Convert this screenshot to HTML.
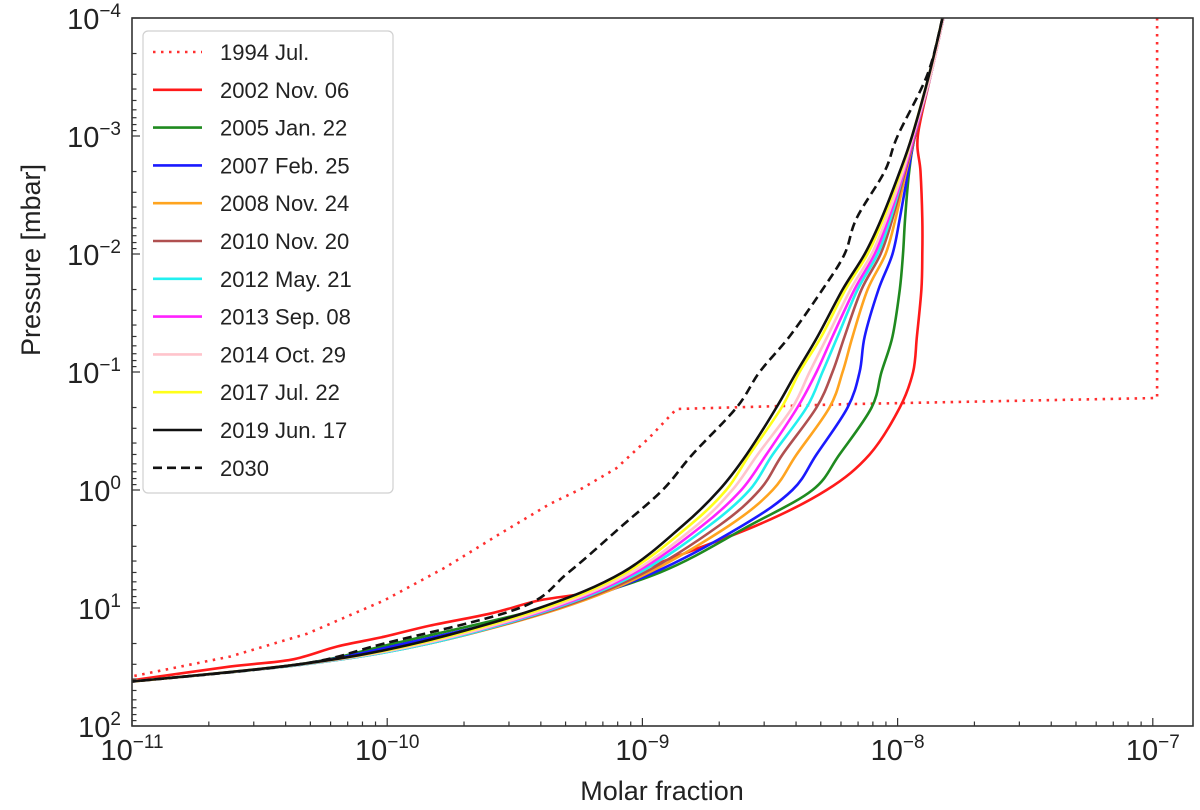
<!DOCTYPE html>
<html><head><meta charset="utf-8"><style>
html,body{margin:0;padding:0;background:#fff;}
svg{display:block;font-family:"Liberation Sans","DejaVu Sans",sans-serif;}
</style></head><body>
<svg id="chart" width="1200" height="810" viewBox="0 0 1200 810" xmlns="http://www.w3.org/2000/svg">
<defs><clipPath id="plotclip"><rect x="132" y="18" width="1061" height="708"/></clipPath></defs>
<rect x="0" y="0" width="1200" height="810" fill="#fff"/>
<g id="series" clip-path="url(#plotclip)"></g>
<g id="axes"></g>
<g id="legend"></g>
<text x="662" y="800" font-size="27" text-anchor="middle" fill="#222">Molar fraction</text>
<text transform="translate(40,260) rotate(-90)" font-size="27" text-anchor="middle" fill="#222">Pressure [mbar]</text>
</svg>
<script>
// Shared pressure levels (mbar)
const pressureLevels = [1e-4, 3e-4, 1e-3, 2e-3, 5e-3, 1e-2, 2e-2, 5e-2, 0.1, 0.2, 0.5, 1, 2, 5, 10, 20, 30, 42];
// Molar fraction values in units of 1e-9
const x2019 = [15.0,13.3,11.4,10.2,8.65,7.43,6.09,4.86,4.02,3.35,2.56,2.00,1.44,0.835,0.394,0.128,0.0452,0.010];
const x2017 = [15.0,13.3,11.4,10.3,8.81,7.63,6.25,5.03,4.13,3.51,2.63,2.13,1.53,0.865,0.413,0.133,0.0452,0.010];
const x2014 = [15.1,13.5,11.5,10.5,9.05,7.91,6.54,5.31,4.52,3.87,2.83,2.25,1.63,0.906,0.432,0.140,0.0460,0.010];
const x2013 = [15.1,13.5,11.6,10.6,9.22,8.13,6.78,5.56,4.81,4.05,3.06,2.44,1.72,0.939,0.444,0.140,0.0460,0.010];
const x2012 = [15.1,13.5,11.6,10.6,9.39,8.35,6.97,5.82,5.08,4.40,3.24,2.63,1.83,0.973,0.456,0.146,0.0473,0.010];
const x2010 = [15.1,13.5,11.7,10.7,9.55,8.58,7.22,6.20,5.56,4.81,3.54,2.88,2.00,1.02,0.469,0.146,0.0473,0.010];
const x2008 = [15.1,13.5,11.7,10.8,9.82,8.97,7.63,6.66,6.09,5.41,4.02,3.24,2.19,1.06,0.482,0.146,0.0473,0.010];
const x2007 = [15.1,13.5,11.7,11.0,10.2,9.55,8.42,7.43,7.10,6.37,4.81,3.87,2.47,1.11,0.452,0.117,0.0452,0.010];
const x2005 = [15.1,13.5,11.7,11.1,10.7,10.5,10.2,9.55,8.65,7.91,5.92,4.64,2.63,1.17,0.413,0.106,0.0452,0.010];
const x2030 = [15.0,13.1,10.0,8.89,6.90,6.20,5.08,3.77,2.88,2.34,1.57,1.20,0.835,0.513,0.330,0.0973,0.0452,0.010];
const p2002 = [1e-4,3e-4,1e-3,2e-3,5e-3,1e-2,2e-2,5e-2,0.1,0.2,0.5,1,2,5,7.1,8.63,11.1,14.1,17.5,21.2,27.4,31.4,41];
const x2002 = [15.0,13.5,12.0,12.3,12.5,12.5,12.4,11.9,11.5,10.2,7.77,5.27,2.80,0.930,0.678,0.394,0.256,0.147,0.0973,0.0637,0.0421,0.0242,0.010];
const p1994 = [1e-4,0.166,0.187,0.206,0.363,0.653,0.966,1.32,2.37,4.53,8.63,16.5,25.8,38];
const x1994 = [104,104,6.48,1.36,1.06,0.791,0.582,0.432,0.275,0.169,0.0973,0.0486,0.0242,0.010];
const xTickExps = [-11,-10,-9,-8,-7];
const yTickExps = [-4,-3,-2,-1,0,1,2];

const L=132,R=1193,T=18,B=726;
const xMinE=-11, xDec=255.2, yMinE=-4, yDec=118;
function sx(v){return L+(Math.log10(v)-xMinE)*xDec;}
function sy(p){return T+(Math.log10(p)-yMinE)*yDec;}
const NS="http://www.w3.org/2000/svg";
function mk(tag,attrs,parent){const e=document.createElementNS(NS,tag);for(const k in attrs)e.setAttribute(k,attrs[k]);parent.appendChild(e);return e;}

function pathFrom(xs,ps,scale,smooth){
  const pts=xs.map((v,i)=>[sx(v*scale),sy(ps[i])]);
  if(!smooth){return 'M'+pts.map(p=>p[0].toFixed(1)+','+p[1].toFixed(1)).join('L');}
  let d='M'+pts[0][0].toFixed(1)+','+pts[0][1].toFixed(1);
  for(let i=0;i<pts.length-1;i++){
    const p0=pts[Math.max(0,i-1)],p1=pts[i],p2=pts[i+1],p3=pts[Math.min(pts.length-1,i+2)];
    const c1=[p1[0]+(p2[0]-p0[0])/6,p1[1]+(p2[1]-p0[1])/6];
    const c2=[p2[0]-(p3[0]-p1[0])/6,p2[1]-(p3[1]-p1[1])/6];
    d+='C'+c1[0].toFixed(1)+','+c1[1].toFixed(1)+' '+c2[0].toFixed(1)+','+c2[1].toFixed(1)+' '+p2[0].toFixed(1)+','+p2[1].toFixed(1);
  }
  return d;
}
const sg=document.getElementById('series');
const seriesDefs=[
 {label:'1994 Jul.',color:'#ff3030',x:x1994,p:p1994,dash:'2.5 5.5',smooth:false,name:'line-1994-jul'},
 {label:'2002 Nov. 06',color:'#ff1a1a',x:x2002,p:p2002,name:'line-2002-nov-06'},
 {label:'2005 Jan. 22',color:'#1f8a1f',x:x2005,p:pressureLevels,name:'line-2005-jan-22'},
 {label:'2007 Feb. 25',color:'#1a1aff',x:x2007,p:pressureLevels,name:'line-2007-feb-25'},
 {label:'2008 Nov. 24',color:'#ffa41f',x:x2008,p:pressureLevels,name:'line-2008-nov-24'},
 {label:'2010 Nov. 20',color:'#b05050',x:x2010,p:pressureLevels,name:'line-2010-nov-20'},
 {label:'2012 May. 21',color:'#22f0f0',x:x2012,p:pressureLevels,name:'line-2012-may-21'},
 {label:'2013 Sep. 08',color:'#ff22ff',x:x2013,p:pressureLevels,name:'line-2013-sep-08'},
 {label:'2014 Oct. 29',color:'#ffc4cc',x:x2014,p:pressureLevels,name:'line-2014-oct-29'},
 {label:'2017 Jul. 22',color:'#ffff1a',x:x2017,p:pressureLevels,name:'line-2017-jul-22'},
 {label:'2019 Jun. 17',color:'#111111',x:x2019,p:pressureLevels,name:'line-2019-jun-17'},
 {label:'2030',color:'#111111',x:x2030,p:pressureLevels,dash:'9 5',name:'line-2030'}
];
const drawOrder=[0,1,2,3,4,5,6,7,8,9,10,11];
drawOrder.forEach(i=>{
  const s=seriesDefs[i];
  const el=mk('path',{d:pathFrom(s.x,s.p,1e-9,s.smooth!==false),fill:'none',stroke:s.color,'stroke-width':2.6,'stroke-linejoin':'round'},sg);
  if(s.dash){el.setAttribute('stroke-dasharray',s.dash);}
  
  
});

// axes
const ax=document.getElementById('axes');
const frame=mk('rect',{x:L,y:T,width:R-L,height:B-T,fill:'none',stroke:'#333','stroke-width':1.6},ax);


// x ticks
for(let e=-11;e<=-7;e++){
  for(let m=1;m<=9;m++){
    const v=m*Math.pow(10,e);const px=sx(v);
    if(px>R+0.5)continue;
    const len=m===1?8:4.5;
    const t=mk('line',{x1:px,y1:B,x2:px,y2:B-len,stroke:'#333','stroke-width':1.2},ax);
    
    
  }
}
xTickExps.forEach(e=>{
  const px=sx(Math.pow(10,e));
  const t=mk('text',{x:px,y:760,'font-size':29,'text-anchor':'middle',fill:'#222'},ax);
  
  
  const a=mk('tspan',{},t);a.textContent='10';
  const b=mk('tspan',{'font-size':19,dy:-12},t);b.textContent='\u2212'+Math.abs(e);
});
// y ticks
for(let e=-4;e<=2;e++){
  for(let m=1;m<=9;m++){
    const v=m*Math.pow(10,e);const py=sy(v);
    if(py>B+0.5)continue;
    const len=m===1?8:4.5;
    const t=mk('line',{x1:L,y1:py,x2:L+len,y2:py,stroke:'#333','stroke-width':1.2},ax);
    
    
  }
}
yTickExps.forEach(e=>{
  const py=sy(Math.pow(10,e));
  const t=mk('text',{x:121,y:py+11,'font-size':29,'text-anchor':'end',fill:'#222'},ax);
  
  
  const a=mk('tspan',{},t);a.textContent='10';
  const b=mk('tspan',{'font-size':19,dy:-12},t);b.textContent=(e<0?'\u2212':'')+Math.abs(e);
});

// legend
const lg=document.getElementById('legend');
const box=mk('rect',{x:143,y:31,width:250,height:462,rx:5,fill:'#fff','fill-opacity':0.85,stroke:'#d0d0d0','stroke-width':1.2},lg);


seriesDefs.forEach((s,i)=>{
  const y=52+i*37.8;
  const g=mk('g',{},lg);
  
  
  const ln=mk('line',{x1:153,y1:y,x2:202,y2:y,stroke:s.color,'stroke-width':2.6},g);
  if(s.dash){ln.setAttribute('stroke-dasharray',s.dash);}
  
  
  const tx=mk('text',{x:220,y:y+8,'font-size':22,fill:'#222'},g);
  tx.textContent=s.label;
  
  
});
</script>
</body></html>
